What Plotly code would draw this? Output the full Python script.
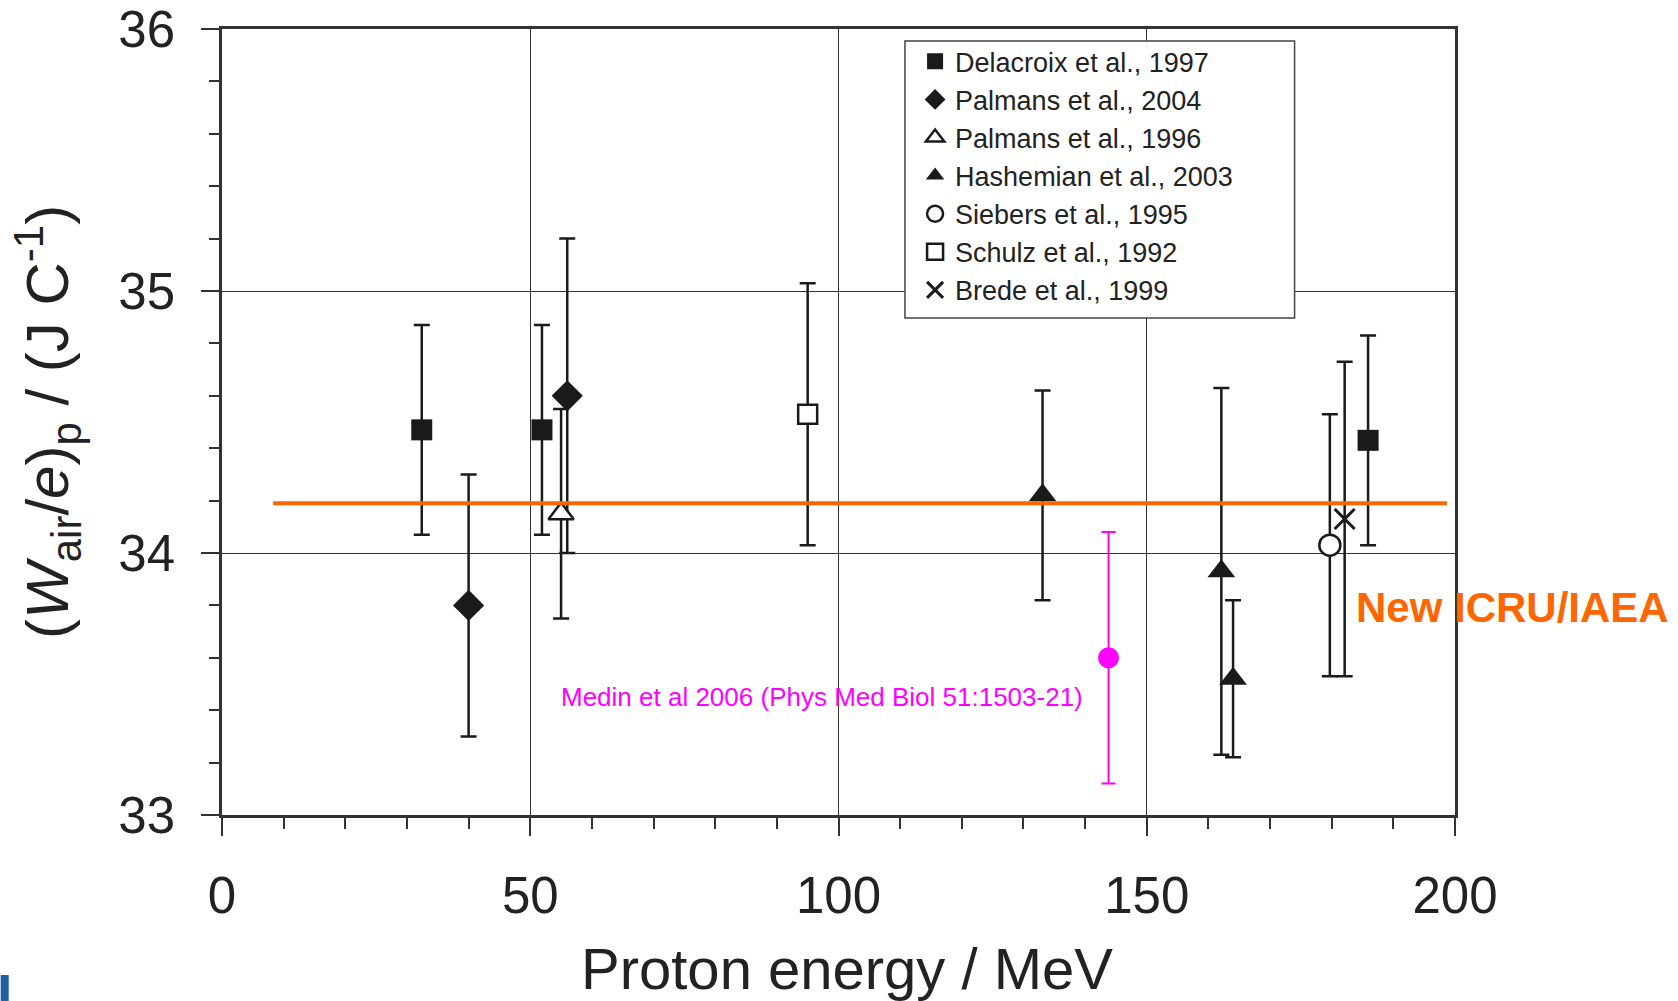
import plotly.graph_objects as go

# ---- data ----
delacroix_E = [32.4, 51.9, 185.9]
delacroix_W = [34.47, 34.47, 34.43]
delacroix_err = [0.40, 0.40, 0.40]

palmans04_E = [40.0, 56.0]
palmans04_W = [33.80, 34.60]
palmans04_err = [0.50, 0.60]

palmans96_E = [55.0]
palmans96_W = [34.15]
palmans96_err = [0.40]

hashemian_E = [133.1, 162.1, 164.0]
hashemian_W = [34.22, 33.93, 33.52]
hashemian_err = [0.40, 0.70, 0.30]

siebers_E = [179.7]
siebers_W = [34.03]
siebers_err = [0.50]

schulz_E = [95.0]
schulz_W = [34.53]
schulz_err = [0.50]

brede_E = [182.1]
brede_W = [34.13]
brede_err = [0.60]

medin_E = [143.8]
medin_W = [33.60]
medin_err = [0.48]

icru_E = [8.3, 198.7]
icru_W = [34.19, 34.19]

x_ticks = [0, 50, 100, 150, 200]
y_ticks = [33, 34, 35, 36]

FONT = "Liberation Sans, Arial, sans-serif"
BLK = "#1a1a1a"

fig = go.Figure()

def add_series(name, xs, ys, errs, symbol, size, fill, lw=2.5):
    fig.add_trace(go.Scatter(
        x=xs, y=ys, mode="markers", name=name,
        error_y=dict(type="data", array=errs, visible=True,
                     color=BLK, thickness=2.5, width=8),
        marker=dict(symbol=symbol, size=size, color=fill,
                    line=dict(color=BLK, width=lw)),
        cliponaxis=False,
    ))

add_series("Delacroix et al., 1997", delacroix_E, delacroix_W, delacroix_err, "square", 21, BLK, 0)
add_series("Palmans et al., 2004", palmans04_E, palmans04_W, palmans04_err, "diamond", 24, BLK, 0)
add_series("Palmans et al., 1996", palmans96_E, palmans96_W, palmans96_err, "triangle-up", 22, "white", 2.5)
add_series("Hashemian et al., 2003", hashemian_E, hashemian_W, hashemian_err, "triangle-up", 24, BLK, 0)
add_series("Siebers et al., 1995", siebers_E, siebers_W, siebers_err, "circle", 21, "white", 2.5)
add_series("Schulz et al., 1992", schulz_E, schulz_W, schulz_err, "square", 19, "white", 2.5)
add_series("Brede et al., 1999", brede_E, brede_W, brede_err, "x-thin", 20, BLK, 3)

fig.add_trace(go.Scatter(
    x=icru_E, y=icru_W, mode="lines", showlegend=False,
    line=dict(color="#FF6600", width=4),
))

fig.add_trace(go.Scatter(
    x=medin_E, y=medin_W, mode="markers", showlegend=False,
    error_y=dict(type="data", array=medin_err, visible=True,
                 color="#FF00FF", thickness=2, width=7),
    marker=dict(symbol="circle", size=21, color="#FF00FF"),
))

fig.add_annotation(x=54.7, y=33.45, xref="x", yref="y",
                   text="Medin et al 2006 (Phys Med Biol 51:1503-21)",
                   showarrow=False, xanchor="left", yanchor="middle",
                   font=dict(family=FONT, size=26, color="#FF00FF"))

fig.add_annotation(x=0.918, y=0.2646, xref="paper", yref="paper",
                   text="<b>New ICRU/IAEA</b>",
                   showarrow=False, xanchor="left", yanchor="middle",
                   font=dict(family=FONT, size=42, color="#FF6600"))

fig.add_annotation(x=0.507, y=-0.1947, xref="paper", yref="paper",
                   text="Proton energy / MeV",
                   showarrow=False, xanchor="center", yanchor="middle",
                   font=dict(family=FONT, size=58, color="#222222"))

fig.add_annotation(x=-0.142, y=0.5, xref="paper", yref="paper",
                   text="(<i>W</i><sub>air</sub>/<i>e</i>)<sub>p</sub> / (J C<sup>-1</sup>)",
                   textangle=-90,
                   showarrow=False, xanchor="center", yanchor="middle",
                   font=dict(family=FONT, size=60, color="#222222"))

# legend frame (white box that hides the grid behind the legend)
fig.add_shape(type="rect", xref="paper", yref="paper", layer="above",
              x0=0.5539, x1=0.8699, y0=0.6323, y1=0.9847,
              fillcolor="white", line=dict(color="#444444", width=1.5))

# small blue slide decoration at bottom-left
fig.add_shape(type="rect", xref="paper", yref="paper",
              x0=-0.1795, x1=-0.1730, y0=-0.2366, y1=-0.2036,
              fillcolor="#1F5FA8", line=dict(width=0))

axis_common = dict(
    showline=True, linecolor="#333333", linewidth=2.5, mirror=True,
    showgrid=True, gridcolor="#333333", gridwidth=1.2,
    zeroline=False, ticks="outside", ticklen=18, tickwidth=2,
    tickcolor="#333333", automargin=False,
    tickfont=dict(family=FONT, size=51, color="#222222"),
)

fig.update_xaxes(range=[0, 200], tickvals=x_ticks,
                 ticklabelstandoff=16,
                 minor=dict(dtick=10, ticks="outside", ticklen=11,
                            tickwidth=2, tickcolor="#333333", showgrid=False),
                 **axis_common)
fig.update_yaxes(range=[33, 36], tickvals=y_ticks,
                 ticklabelstandoff=16,
                 minor=dict(dtick=0.2, ticks="outside", ticklen=10,
                            tickwidth=2, tickcolor="#333333", showgrid=False),
                 **axis_common)

fig.update_layout(
    width=1678, height=1001,
    margin=dict(l=221.5, r=222.5, t=29, b=186, autoexpand=False),
    paper_bgcolor="white", plot_bgcolor="white",
    font=dict(family=FONT, color="#222222"),
    legend=dict(
        x=0.554, y=0.9895, xanchor="left", yanchor="top",
        bgcolor="rgba(0,0,0,0)", borderwidth=0,
        font=dict(family=FONT, size=27, color="#222222"),
        itemwidth=30, tracegroupgap=0, indentation=10,
    ),
)

fig.write_html("out.html")
